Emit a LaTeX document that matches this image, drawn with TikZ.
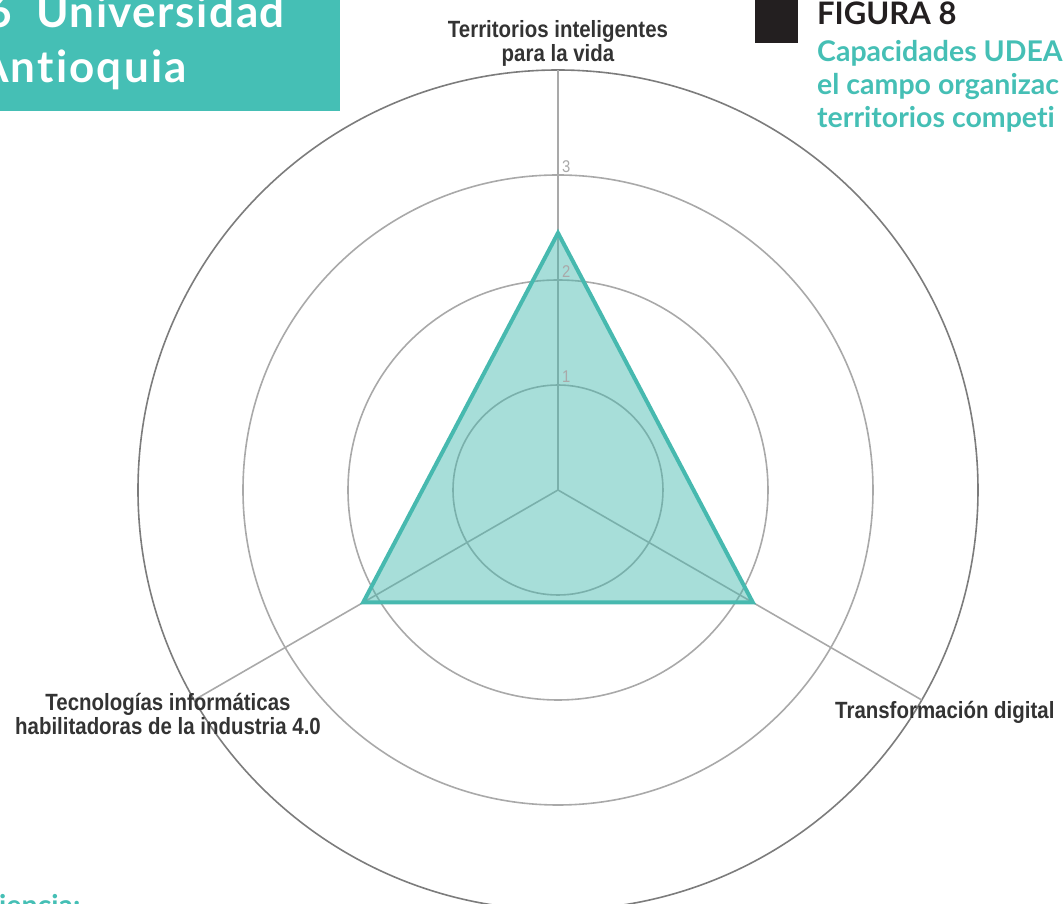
\documentclass[tikz,border=0pt]{standalone}
\usepackage{fontspec}
\setmainfont{Liberation Sans}
\newfontfamily\narrowfont[FakeStretch=0.87]{Liberation Sans}
\newfontfamily\latofont[Ligatures=NoCommon]{Lato}
\definecolor{udeaTeal}{HTML}{45BFB5}
\definecolor{lineTeal}{HTML}{47B9AF}
\definecolor{gridGray}{HTML}{A9A9A9}
\definecolor{outerGray}{HTML}{7C7C7C}
\definecolor{labelGray}{HTML}{333333}
\definecolor{darkBlock}{HTML}{231F20}

\begin{document}
\begin{tikzpicture}[x=1pt,y=1pt,
	ringline/.style={draw=gridGray, line width=1.6pt},
	outerring/.style={draw=outerGray, line width=1.6pt},
	spoke/.style={draw=gridGray, line width=1.6pt},
	datashape/.style={draw=lineTeal, line width=4pt, fill=lineTeal, fill opacity=0.48},
	axislabel/.style={font=\narrowfont\bfseries\fontsize{23.5}{24}\selectfont, text=labelGray, align=center, inner sep=0pt},
	ticklabel/.style={font=\narrowfont\fontsize{17}{17}\selectfont, text=gridGray, inner sep=0pt, anchor=base west},
	headtext/.style={font=\latofont\bfseries\fontsize{44}{44}\selectfont, text=white, inner sep=0pt},
	figtext/.style={font=\latofont\bfseries\fontsize{28.5}{33}\selectfont, text=udeaTeal, inner sep=0pt, anchor=base west, align=left}]
					\useasboundingbox (-558,-414) rectangle (505,490);
					
					%HEADER
					\fill[udeaTeal] (-562,379) rectangle (-218,494);
					\node[headtext, anchor=base east] (headA) at (-273,462) {\addfontfeature{LetterSpace=3.5}6\hspace{12.5pt} Universidad};
					\node[headtext, anchor=base east] (headB) at (-371,407) {\addfontfeature{LetterSpace=5}Antioquia};
					\fill[darkBlock] (197,447) rectangle (240,494);
					\node[figtext, text=darkBlock, font=\latofont\bfseries\fontsize{31}{31}\selectfont] (figNum) at (259,465) {FIGURA 8};
					% base of a multi-line node is its last line
					\node[figtext] (figTitle) at (259,362) {Capacidades UDEA\\el campo organizac\\territorios competi};
					\node[figtext] (figFoot) at (-559,-425) {iencia:};
					
					%RINGS
					\coordinate (o) at (0,0);
					\foreach \r in {105,210,315}
						\draw[ringline] (o) circle (\r);
					\draw[outerring] (o) circle (420);
					
					%AXES
					\foreach \a/\n in {90/top,-30/right,210/left}{
						\coordinate (ax\n) at (\a:420);
						\draw[spoke] (o) -- (ax\n);
					}
					
					%DATA
					\coordinate (dtop) at (90:257);
					\coordinate (dright) at (-30:225);
					\coordinate (dleft) at (210:225);
					\draw[datashape] (dtop) -- (dright) -- (dleft) -- cycle;
					
					\foreach \v in {1,2,3}
						\node[ticklabel] (tick\v) at (4,\v*105+2) {\v};
					
					%LABELS
					\node[axislabel] (lblTop) at (0,447) {Territorios inteligentes\\para la vida};
					\node[axislabel, anchor=west] (lblRight) at (277,-222) {Transformación digital};
					\node[axislabel] (lblLeft) at (-390,-224) {Tecnologías informáticas\\habilitadoras de la industria 4.0};
					
				  \end{tikzpicture}
\end{document}
